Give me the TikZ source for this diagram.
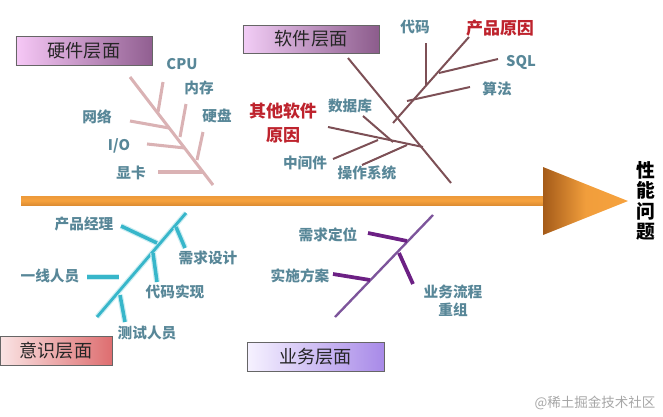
\documentclass[tikz,border=0pt]{standalone}
\usepackage{fontspec}
\setmainfont{Noto Sans CJK SC}
\definecolor{labelblue}{RGB}{88,135,152}
\definecolor{causered}{RGB}{190,35,45}
\definecolor{hwpink}{RGB}{218,178,180}
\definecolor{swbrown}{RGB}{125,80,86}
\definecolor{mindcyan}{RGB}{55,182,202}
\definecolor{bizpurple}{RGB}{108,32,132}
\definecolor{bizline}{RGB}{125,85,155}
\definecolor{arrowlight}{RGB}{246,162,62}
\definecolor{arrowdark}{RGB}{150,78,18}
\tikzset{
    lbl/.style={text=labelblue, font=\fontsize{12.5}{15}\selectfont\bfseries, inner sep=1pt},
    redlbl/.style={text=causered, font=\fontsize{14.5}{20}\selectfont\bfseries, align=center, inner sep=1pt},
    layerbox/.style={draw=black!60, line width=0.5pt, minimum width=4.08cm, minimum height=0.88cm,
        font=\fontsize{15.5}{18}\selectfont, text=black!85},
}
\begin{document}
\begin{tikzpicture}[x=0.03cm, y=-0.03cm]
    \useasboundingbox (0,0) rectangle (663,417);

    % main arrow
    \shade[top color=arrowlight!90!arrowdark, bottom color=arrowlight!75!arrowdark, middle color=arrowlight]
        (21,196) rectangle (546,205);
    \shade[left color=arrowdark!85!arrowlight, right color=arrowlight, middle color=arrowlight!95!arrowdark]
        (543,167) -- (628,201) -- (543,235) -- cycle;
    \node (goal) at (646,201) [align=center, font=\fontsize{16}{17.5}\selectfont\bfseries]
        {性\\能\\问\\题};

    % hardware
    \node (hw) at (84,51) [layerbox, left color={rgb,255:red,246;green,200;blue,246},
        right color={rgb,255:red,145;green,95;blue,145}] {硬件层面};
    \draw[hwpink, line width=2.6pt] (130,77) -- (213,185);
    \foreach \xa/\ya/\xb/\yb in {163/82/158/112, 130/121/169/128, 186/104/180/137,
        147/144/185/148, 203/132/197/160, 158/172/203/172}
    {
        \draw[hwpink, line width=2.6pt] (\xa,\ya) -- (\xb,\yb);
    }
    \foreach \x/\y/\xtext [count=\i] in {182/64/CPU, 199/88/内存, 97/117/网络,
        217/116/硬盘, 119/146/{I/O}, 131/173/显卡}
    {
        \node (hw\i) at (\x,\y) [lbl]{\xtext};
    }

    % software
    \node (sw) at (311,39) [layerbox, minimum height=0.84cm, left color={rgb,255:red,242;green,205;blue,246},
        right color={rgb,255:red,140;green,92;blue,140}] {软件层面};
    \draw[swbrown, line width=1.7pt] (348,58) -- (451,183);
    \foreach \xa/\ya/\xb/\yb in {469/37/393/123, 426/43/426/85, 498/59/439/73,
        470/87/407/101, 328/127/423/147, 363/116/393/142, 333/159/378/140, 362/165/407/145}
    {
        \draw[swbrown, line width=1.7pt] (\xa,\ya) -- (\xb,\yb);
    }
    \foreach \x/\y/\xtext [count=\i] in {415/27/代码, 521/62/SQL, 497/89/算法,
        350/106/数据库, 305/163/中间件, 367/173/操作系统}
    {
        \node (sw\i) at (\x,\y) [lbl]{\xtext};
    }
    \node (prod) at (500,28) [redlbl]{产品原因};
    \node (other) at (283,123) [redlbl]{其他软件\\原因};

    % awareness
    \node (mind) at (56,351) [layerbox, minimum width=3.36cm, left color={rgb,255:red,250;green,228;blue,228},
        right color={rgb,255:red,222;green,110;blue,112}] {意识层面};
    \draw[mindcyan, line width=2.4pt, preaction={draw, mindcyan!25, line width=4.5pt}] (186,213) -- (97,317);
    \foreach \xa/\ya/\xb/\yb in {121/226/157/243, 176/227/185/248, 87/277/119/277,
        153/253/157/282, 120/295/125/322}
    {
        \draw[mindcyan, line width=3pt, preaction={draw, mindcyan!25, line width=5pt}] (\xa,\ya) -- (\xb,\yb);
    }
    \foreach \x/\y/\xtext [count=\i] in {84/224/产品经理, 208/258/需求设计, 50/276/一线人员,
        175/292/代码实现, 147/333/测试人员}
    {
        \node (mind\i) at (\x,\y) [lbl]{\xtext};
    }

    % business
    \node (biz) at (315.5,357) [layerbox, minimum width=4.11cm, left color={rgb,255:red,246;green,242;blue,255},
        right color={rgb,255:red,168;green,138;blue,232}] {业务层面};
    \draw[bizline, line width=2pt] (433,215) -- (335,317);
    \foreach \xa/\ya/\xb/\yb in {368/233/407/241, 399/253/413/284, 333/274/370/280}
    {
        \draw[bizpurple, line width=3.2pt] (\xa,\ya) -- (\xb,\yb);
    }
    \node (biz1) at (328,235) [lbl]{需求定位};
    \node (biz2) at (300,276) [lbl]{实施方案};
    \node (biz3) at (453,301) [lbl, align=center]{业务流程\\重组};

    \node (mark) at (595,403) [text=black!35, font=\fontsize{11.5}{14}\selectfont]{@稀土掘金技术社区};
\end{tikzpicture}
\end{document}
